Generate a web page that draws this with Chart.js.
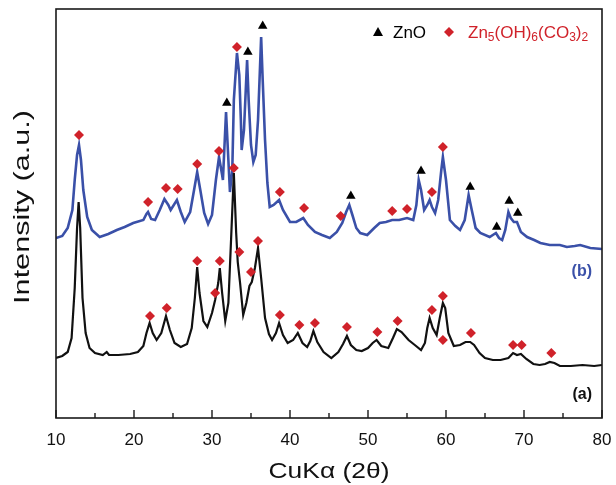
<!DOCTYPE html>
<html>
<head>
<meta charset="utf-8">
<script src="https://cdn.jsdelivr.net/npm/chart.js@4.4.0/dist/chart.umd.min.js"></script>
<style>
  html, body { margin: 0; padding: 0; background: #fff; }
  canvas { display: block; }
</style>
</head>
<body>
<canvas id="xrdChart" width="616" height="485"></canvas>
<script>
// pattern (a): 2theta and intensity (a.u., arbitrary offset)
var angleA = [10.0, 10.8, 11.5, 12.0, 12.4, 12.7, 12.9, 13.1, 13.4, 13.8, 14.3, 15.0, 16.0, 16.5, 16.8, 18.0, 19.5, 20.5,
  21.2, 21.6, 22.0, 22.4, 22.9, 23.5, 24.1, 24.6, 25.2, 26.0, 26.8, 27.4, 27.8, 28.1, 28.4, 28.9, 29.4, 30.0, 30.4,
  30.8, 31.0, 31.3, 31.7, 32.1, 32.4, 32.8, 33.1, 33.3, 33.6, 34.0, 34.4, 34.8, 35.1, 35.5, 35.9, 36.3, 36.8, 37.3,
  37.7, 38.2, 38.6, 39.1, 39.7, 40.4, 41.0, 41.6, 42.2, 42.6, 43.0, 43.5, 44.3, 45.3, 46.2, 46.8, 47.3, 47.8, 48.5,
  49.2, 50.0, 50.6, 51.1, 51.7, 52.6, 53.2, 53.7, 54.3, 55.2, 56.0, 56.8, 57.3, 57.6, 57.9, 58.3, 58.8, 59.2, 59.6,
  59.9, 60.3, 61.0, 61.8, 62.5, 63.1, 63.6, 64.3, 65.0, 66.0, 67.0, 68.0, 68.6, 69.1, 69.6, 70.3, 71.2, 72.0, 72.7,
  73.3, 73.9, 74.6, 76.0, 77.5, 79.0, 80.0];
var countsA = [60, 62, 66, 80, 130, 190, 216, 190, 120, 85, 70, 65, 63, 66, 63, 63, 64, 66,
  72, 85, 95, 85, 78, 85, 102, 88, 75, 71, 74, 90, 120, 151, 125, 97, 91, 105, 118,
  135, 150, 125, 97, 115, 170, 245, 185, 156, 135, 103, 115, 132, 136, 150, 170, 140, 100, 84,
  78, 85, 95, 83, 75, 78, 85, 75, 71, 77, 87, 76, 66, 60, 66, 74, 82, 73, 68,
  67, 70, 75, 78, 72, 70, 80, 89, 86, 78, 73, 68, 75, 90, 100, 90, 83, 100, 115,
  110, 85, 72, 73, 76, 76, 73, 65, 60, 58, 58, 60, 65, 63, 64, 59, 54, 53, 54,
  56, 55, 52, 52, 53, 52, 53];

// pattern (b)
var angleB = [10.0, 10.8, 11.5, 12.1, 12.4, 12.7, 12.95, 13.2, 13.5, 14.0, 14.6, 15.6, 16.7, 17.8, 18.8, 19.9, 21.2,
  21.6, 21.8, 22.2, 22.7, 23.3, 23.9, 24.4, 24.7, 25.5, 26.0, 26.5, 27.2, 27.7, 28.1, 28.5, 29.0, 29.5, 30.0, 30.5,
  30.9, 31.3, 31.4, 31.8, 32.1, 32.3, 32.6, 32.8, 33.2, 33.5, 33.7, 33.8, 34.1, 34.5, 34.7, 35.0, 35.3, 35.6, 35.9,
  36.3, 36.5, 36.8, 37.1, 37.4, 37.9, 38.6, 39.1, 40.0, 40.8, 41.7, 42.3, 43.2, 44.1, 45.1, 46.0, 46.7, 47.2, 47.6,
  48.0, 48.5, 49.0, 49.9, 50.8, 51.5, 52.3, 53.1, 54.0, 55.0, 55.8, 56.2, 56.5, 56.8, 57.2, 57.6, 57.9, 58.2, 58.6,
  59.0, 59.4, 59.6, 60.0, 60.5, 61.2, 61.8, 62.4, 62.9, 63.3, 63.8, 64.4, 65.6, 66.4, 66.8, 67.2, 67.6, 68.0, 68.3,
  68.7, 69.1, 69.6, 70.4, 71.3, 72.1, 73.3, 74.6, 75.5, 76.5, 77.2, 78.5, 80.0];
var countsB = [180, 182, 190, 208, 238, 263, 273, 258, 228, 201, 188, 181, 184, 188, 191, 195, 198,
  204, 206, 199, 198, 208, 219, 213, 208, 218, 206, 196, 206, 228, 246, 228, 205, 194, 203, 238,
  261, 243, 238, 306, 258, 226, 248, 318, 365, 343, 298, 268, 288, 358, 318, 273, 256, 263, 298,
  381, 338, 278, 235, 211, 213, 218, 208, 196, 196, 200, 193, 186, 183, 180, 186, 195, 206, 213,
  203, 190, 185, 183, 190, 195, 196, 198, 198, 200, 198, 213, 238, 228, 208, 213, 218, 211, 205,
  218, 248, 261, 238, 198, 192, 188, 198, 223, 208, 190, 185, 181, 185, 180, 178, 188, 206, 200,
  196, 196, 186, 181, 178, 175, 173, 173, 171, 172, 173, 170, 169];

// phase markers
var znoAngle = [31.9, 34.6, 36.5, 47.8, 56.8, 63.1, 66.5, 68.1, 69.2];
var znoLevel = [315, 366, 392, 222, 247, 231, 191, 217, 205];
var hzcAngleB = [12.95, 21.8, 24.1, 25.6, 28.1, 30.9, 33.2, 38.7, 41.8, 46.5, 53.1, 55.0, 58.2, 59.6];
var hzcLevelB = [283, 216, 230, 229, 254, 267, 371, 226, 210, 202, 207, 209, 226, 271];
var hzcAngleA = [22.05, 24.2, 28.1, 30.4, 31.0, 32.8, 33.5, 35.0, 35.9, 38.7, 41.2, 43.2, 47.3, 51.2, 53.8,
  58.2, 59.6, 59.6, 63.2, 68.6, 69.7, 73.5];
var hzcLevelA = [102, 110, 157, 125, 157, 250, 166, 146, 177, 103, 93, 95, 91, 86, 97,
  108, 122, 78, 85, 73, 73, 65];

var majorTicks = [10, 20, 30, 40, 50, 60, 70, 80];
var minorTicks = [15, 25, 35, 45, 55, 65, 75];

var blue = '#3a50a8';
var red = '#d0222a';
var font = '"Liberation Sans", Arial, sans-serif';

function pairs(xs, ys) {
    return xs.map(function(x, i) { return { x: x, y: ys[i] }; });
}

var decorPlugin = {
    id: 'decor',
    afterDraw: function(chart) {
        var ctx = chart.ctx;
        var area = chart.chartArea;
        var xs = chart.scales.x;
        var ys = chart.scales.y;
        ctx.save();

        // frame
        ctx.strokeStyle = '#1a1a1a';
        ctx.lineWidth = 1.6;
        ctx.strokeRect(area.left, area.top, area.right - area.left, area.bottom - area.top);

        // inward ticks + labels
        ctx.lineWidth = 1.4;
        ctx.beginPath();
        majorTicks.forEach(function(v) {
            var p = xs.getPixelForValue(v);
            ctx.moveTo(p, area.bottom);
            ctx.lineTo(p, area.bottom - 8);
        });
        minorTicks.forEach(function(v) {
            var p = xs.getPixelForValue(v);
            ctx.moveTo(p, area.bottom);
            ctx.lineTo(p, area.bottom - 5);
        });
        ctx.stroke();

        ctx.fillStyle = '#111';
        ctx.font = '17px ' + font;
        ctx.textAlign = 'center';
        ctx.textBaseline = 'alphabetic';
        majorTicks.forEach(function(v) {
            ctx.fillText(String(v), xs.getPixelForValue(v), area.bottom + 27);
        });

        // axis titles
        ctx.font = '22px ' + font;
        ctx.save();
        ctx.translate((area.left + area.right) / 2, 478);
        ctx.scale(1.2, 1);
        ctx.fillText('CuK\u03b1 (2\u03b8)', 0, 0);
        ctx.restore();
        ctx.save();
        ctx.translate(29, 207);
        ctx.rotate(-Math.PI / 2);
        ctx.scale(1.39, 1);
        ctx.fillText('Intensity (a.u.)', 0, 0);
        ctx.restore();

        // pattern labels
        ctx.font = 'bold 16px ' + font;
        ctx.textAlign = 'right';
        ctx.fillStyle = blue;
        ctx.fillText('(b)', area.right - 10, ys.getPixelForValue(142));
        ctx.fillStyle = '#111';
        ctx.fillText('(a)', area.right - 10, ys.getPixelForValue(19));

        // legend
        var ly = area.top + 23;
        var tx = area.right - 224;
        ctx.fillStyle = '#000';
        ctx.beginPath();
        ctx.moveTo(tx, ly - 5);
        ctx.lineTo(tx + 5, ly + 4);
        ctx.lineTo(tx - 5, ly + 4);
        ctx.closePath();
        ctx.fill();
        ctx.textAlign = 'left';
        ctx.font = '17px ' + font;
        ctx.fillText('ZnO', tx + 15, ly + 6);

        var dx = area.right - 153;
        ctx.fillStyle = red;
        ctx.beginPath();
        ctx.moveTo(dx, ly - 5);
        ctx.lineTo(dx + 5, ly);
        ctx.lineTo(dx, ly + 5);
        ctx.lineTo(dx - 5, ly);
        ctx.closePath();
        ctx.fill();
        var parts = [['Zn', 0], ['5', 1], ['(OH)', 0], ['6', 1], ['(CO', 0], ['3', 1], [')', 0], ['2', 1]];
        var cx = dx + 19;
        parts.forEach(function(p) {
            ctx.font = (p[1] ? '12px ' : '17px ') + font;
            ctx.fillText(p[0], cx, ly + 6 + (p[1] ? 3 : 0));
            cx += ctx.measureText(p[0]).width;
        });
        ctx.restore();
    }
};

document.addEventListener('DOMContentLoaded', function() {
    var ctx = document.getElementById('xrdChart').getContext('2d');
    var xrdChart = new Chart(ctx, {
        type: 'scatter',
        data: {
            datasets: [{
                label: 'ZnO',
                data: pairs(znoAngle, znoLevel),
                pointStyle: 'triangle',
                pointRadius: 5.5,
                backgroundColor: '#000',
                borderWidth: 0,
                order: 0
            }, {
                label: 'Zn5(OH)6(CO3)2 (b)',
                data: pairs(hzcAngleB, hzcLevelB),
                pointStyle: 'rectRot',
                pointRadius: 5,
                backgroundColor: red,
                borderWidth: 0,
                order: 0
            }, {
                label: 'Zn5(OH)6(CO3)2 (a)',
                data: pairs(hzcAngleA, hzcLevelA),
                pointStyle: 'rectRot',
                pointRadius: 5,
                backgroundColor: red,
                borderWidth: 0,
                order: 0
            }, {
                label: '(a)',
                data: pairs(angleA, countsA),
                showLine: true,
                pointRadius: 0,
                borderColor: '#111',
                borderWidth: 2.2,
                tension: 0,
                order: 1
            }, {
                label: '(b)',
                data: pairs(angleB, countsB),
                showLine: true,
                pointRadius: 0,
                borderColor: blue,
                borderWidth: 2.6,
                tension: 0,
                order: 2
            }]
        },
        options: {
            responsive: false,
            animation: false,
            devicePixelRatio: 1,
            layout: {
                padding: { left: 56, right: 14, top: 9, bottom: 67 }
            },
            plugins: {
                legend: { display: false },
                tooltip: { enabled: false }
            },
            scales: {
                x: {
                    display: false,
                    type: 'linear',
                    min: 10,
                    max: 80
                },
                y: {
                    display: false,
                    min: 0,
                    max: 409
                }
            }
        },
        plugins: [decorPlugin]
    });
});
</script>
</body>
</html>
